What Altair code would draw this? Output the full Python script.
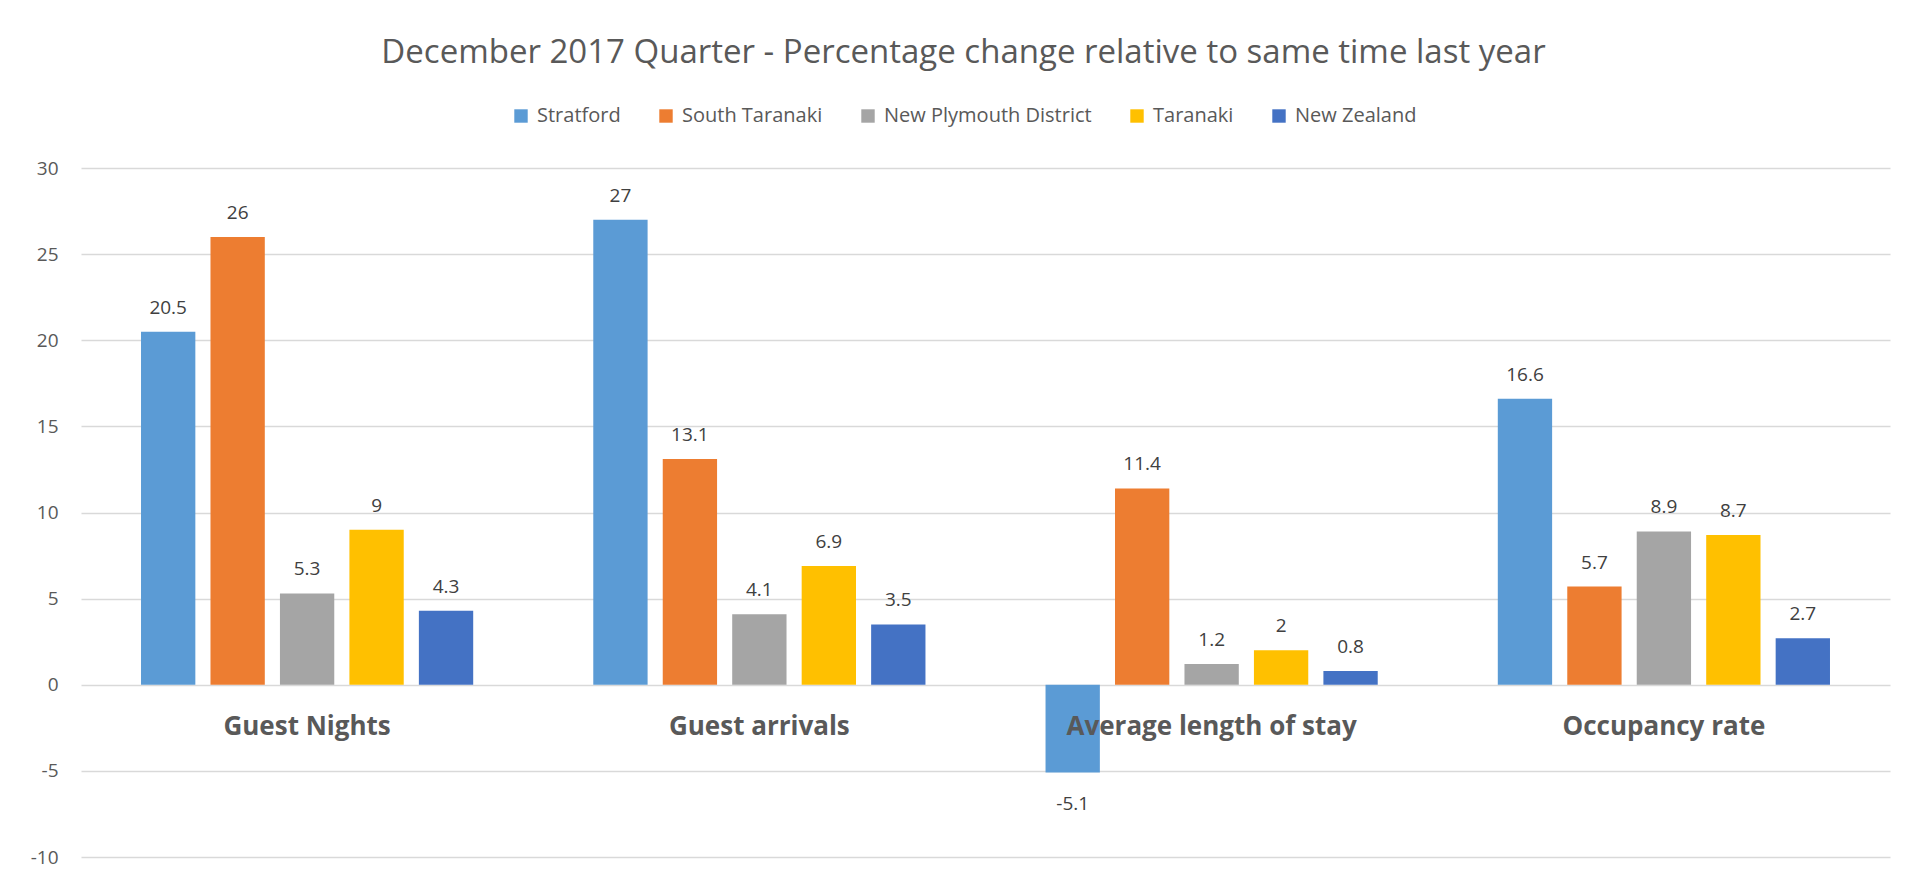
import altair as alt
import pandas as pd

categories = ["Guest Nights", "Guest arrivals", "Average length of stay", "Occupancy rate"]
series = ["Stratford", "South Taranaki", "New Plymouth District", "Taranaki", "New Zealand"]
colors = ["#5B9BD5", "#ED7D31", "#A5A5A5", "#FFC000", "#4472C4"]

stratford = [20.5, 27, -5.1, 16.6]
south_taranaki = [26, 13.1, 11.4, 5.7]
new_plymouth = [5.3, 4.1, 1.2, 8.9]
taranaki = [9, 6.9, 2, 8.7]
new_zealand = [4.3, 3.5, 0.8, 2.7]

y_ticks = [-10, -5, 0, 5, 10, 15, 20, 25, 30]
y_domain = [-10, 30]

title_text = "December 2017 Quarter  - Percentage change relative to same time last year"

rows = []
for s, vals in zip(series, [stratford, south_taranaki, new_plymouth, taranaki, new_zealand]):
    for c, v in zip(categories, vals):
        rows.append({"Category": c, "Series": s, "Value": v, "Label": f"{v:g}"})
df = pd.DataFrame(rows)

W, H = 1809, 689
FONT = "Open Sans"

x_enc = alt.X(
    "Category:N",
    sort=categories,
    scale=alt.Scale(paddingInner=0.2655, paddingOuter=0.1327),
    axis=alt.Axis(
        title=None, orient="bottom", offset=-172, labelFontSize=26,
        labelFontWeight="bold", labelColor="#595959", labelPadding=28,
        domain=False, ticks=False, labelAngle=0, zindex=1, grid=False,
        labelFont=FONT, labelLimit=600,
    ),
)
xoff_enc = alt.XOffset(
    "Series:N", sort=series, scale=alt.Scale(paddingInner=0.218, paddingOuter=0)
)
y_enc = alt.Y(
    "Value:Q",
    scale=alt.Scale(domain=y_domain, nice=False, zero=False),
    axis=alt.Axis(
        values=y_ticks, title=None, domain=False, ticks=False, labelFontSize=19,
        labelColor="#595959", labelPadding=23, gridColor="#D9D9D9", gridWidth=1.3,
        labelFont=FONT, labelExpr="datum.value + ''",
    ),
)

base = alt.Chart(df)

bars = base.mark_bar().encode(
    x=x_enc,
    xOffset=xoff_enc,
    y=y_enc,
    color=alt.Color(
        "Series:N",
        sort=series,
        scale=alt.Scale(domain=series, range=colors),
        legend=alt.Legend(
            title=None, orient="none", direction="horizontal",
            legendX=430, legendY=-62, symbolType="square", symbolSize=180,
            symbolStrokeWidth=0, labelFontSize=20, labelColor="#595959",
            columnPadding=35, labelOffset=6, labelFont=FONT, labelLimit=400,
        ),
    ),
)

pos_labels = base.transform_filter(alt.datum.Value >= 0).mark_text(
    baseline="alphabetic", dy=-18, fontSize=19, color="#404040", font=FONT
).encode(x=x_enc, xOffset=xoff_enc, y=y_enc, text="Label:N")

neg_labels = base.transform_filter(alt.datum.Value < 0).mark_text(
    baseline="alphabetic", dy=37, fontSize=19, color="#404040", font=FONT
).encode(x=x_enc, xOffset=xoff_enc, y=y_enc, text="Label:N")

chart = (
    alt.layer(bars, pos_labels, neg_labels)
    .properties(
        width=W,
        height=H,
        title=alt.Title(
            title_text, fontSize=33, fontWeight="normal", color="#595959",
            font=FONT, anchor="middle", baseline="alphabetic", offset=10, dx=-22,
        ),
        autosize=alt.AutoSizeParams(type="none"),
        padding={"left": 73, "top": 160, "right": 27, "bottom": 20},
    )
    .configure(font=FONT)
    .configure_view(stroke=None)
)

chart.save("out.html", embed_options={"renderer": "svg", "actions": False})
